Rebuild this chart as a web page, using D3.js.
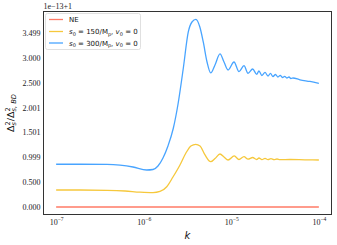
<!DOCTYPE html>
<html>
<head>
<meta charset="utf-8">
<script src="https://cdn.jsdelivr.net/npm/d3@7"></script>
<style>
  body { margin: 0; background: #fff; }
  svg { display: block; }
</style>
</head>
<body>
<svg id="chart" width="337" height="245"></svg>
<script>
const neLogK = [-7, -6, -5, -4];
const neVals = [0, 0, 0, 0];

const s150LogK = [-7, -6.727, -6.419, -6.213, -6.042, -5.894, -5.814, -5.737, -5.666, -5.586, -5.518, -5.461,
  -5.406, -5.357, -5.300, -5.235, -5.186, -5.129, -5.083, -5.037, -4.966, -4.912, -4.855, -4.809, -4.756,
  -4.710, -4.684, -4.650, -4.615, -4.581, -4.547, -4.513, -4.478, -4.444, -4.330, -4.159, -4];
const s150Vals = [0.342, 0.342, 0.336, 0.322, 0.298, 0.288, 0.312, 0.408, 0.603, 0.845, 1.086, 1.227,
  1.261, 1.227, 1.046, 0.911, 0.975, 1.066, 1.005, 0.945, 1.026, 0.955, 1.011, 0.961, 0.995,
  0.955, 0.985, 0.953, 0.977, 0.953, 0.971, 0.953, 0.965, 0.953, 0.955, 0.949, 0.945];

const s300LogK = [-7, -6.727, -6.419, -6.271, -6.122, -5.966, -5.894, -5.837, -5.780, -5.723, -5.662, -5.608,
  -5.548, -5.491, -5.449, -5.404, -5.359, -5.320, -5.277, -5.235, -5.186, -5.129, -5.083, -5.037, -4.969,
  -4.912, -4.855, -4.809, -4.756, -4.710, -4.684, -4.650, -4.615, -4.581, -4.553, -4.524, -4.495, -4.467,
  -4.441, -4.416, -4.390, -4.366, -4.341, -4.319, -4.296, -4.216, -4.102, -4];
const s300Vals = [0.859, 0.859, 0.855, 0.840, 0.804, 0.744, 0.754, 0.824, 0.985, 1.227, 1.583, 2.071,
  2.790, 3.520, 3.720, 3.774, 3.620, 3.318, 2.916, 2.695, 2.856, 3.077, 2.916, 2.755, 2.916,
  2.721, 2.841, 2.689, 2.775, 2.668, 2.735, 2.644, 2.705, 2.634, 2.685, 2.624, 2.664, 2.614,
  2.648, 2.604, 2.628, 2.594, 2.614, 2.584, 2.594, 2.558, 2.524, 2.487];

const yTickVals = [0, 0.5, 0.999, 1.501, 2.001, 2.5, 3.0, 3.499];
const yTickLabels = ['0.000', '0.500', '0.999', '1.501', '2.001', '2.500', '3.000', '3.499'];
const xTickExps = [-7, -6, -5, -4];

const seriesNames = ['NE', 's150', 's300'];
const colors = ['#ff7a66', '#f6c83c', '#48a4ff'];

const svg = d3.select('#chart');
const margin = { top: 11, right: 5, bottom: 30, left: 43 };
const width = 337, height = 245;

const pad = 0.05 * 3;
const x = d3.scaleLog()
  .domain([Math.pow(10, -7 - pad), Math.pow(10, -4 + pad)])
  .range([margin.left, width - margin.right]);
const y = d3.scaleLinear()
  .domain([-0.161, 3.941])
  .range([height - margin.bottom, margin.top]);

const series = [
  { name: 'NE', k: neLogK, v: neVals },
  { name: 's150', k: s150LogK, v: s150Vals },
  { name: 's300', k: s300LogK, v: s300Vals }
].map((s, i) => ({ ...s, color: colors[i], pts: s.k.map((lk, j) => [Math.pow(10, lk), s.v[j]]) }));

const line = d3.line()
  .x(d => x(d[0]))
  .y(d => y(d[1]))
  .curve(d3.curveMonotoneX);

svg.append('g')
  .selectAll('path')
  .data(series)
  .join('path')
    .attr('d', d => line(d.pts))
    .attr('fill', 'none')
    .attr('stroke', d => d.color)
    .attr('stroke-width', 1.3);

// frame
svg.append('rect')
  .attr('x', margin.left + 0.5)
  .attr('y', margin.top + 0.5)
  .attr('width', width - margin.left - margin.right - 1)
  .attr('height', height - margin.top - margin.bottom - 1)
  .attr('fill', 'none')
  .attr('stroke', '#333')
  .attr('stroke-width', 1);

// y axis
const yAxis = svg.append('g')
  .attr('transform', `translate(${margin.left},0)`)
  .call(d3.axisLeft(y).tickValues(yTickVals).tickSize(0).tickPadding(2.5)
    .tickFormat((d, i) => yTickLabels[i]));
yAxis.select('.domain').remove();
yAxis.selectAll('text')
  .attr('font-family', 'Liberation Serif')
  .attr('font-size', 8)
  .attr('fill', '#222');

// x axis with 10^n labels
const xAxis = svg.append('g')
  .attr('transform', `translate(0,${height - margin.bottom})`)
  .call(d3.axisBottom(x).tickValues(xTickExps.map(e => Math.pow(10, e))).tickSize(0).tickPadding(4)
    .tickFormat(() => ''));
xAxis.select('.domain').remove();
xAxis.selectAll('.tick text').each(function(d, i) {
  const t = d3.select(this)
    .attr('font-family', 'Liberation Serif')
    .attr('font-size', 8)
    .attr('fill', '#222');
  t.append('tspan').text('10');
  t.append('tspan').attr('dy', -3.5).attr('font-size', 5.6).text('\u2212' + Math.abs(xTickExps[i]));
});

// offset text
svg.append('text')
  .attr('x', margin.left + 0.5)
  .attr('y', 9)
  .attr('font-family', 'Liberation Serif')
  .attr('font-size', 8)
  .attr('fill', '#222')
  .text('1e\u221213+1');

// x label
svg.append('text')
  .attr('x', (margin.left + width - margin.right) / 2)
  .attr('y', 239)
  .attr('text-anchor', 'middle')
  .attr('font-family', 'DejaVu Sans')
  .attr('font-style', 'italic')
  .attr('font-size', 10)
  .attr('fill', '#111')
  .text('k');

// y label
const yl = svg.append('text')
  .attr('transform', 'translate(14,113) rotate(-90)')
  .attr('text-anchor', 'middle')
  .attr('font-family', 'DejaVu Sans')
  .attr('font-size', 9.5)
  .attr('fill', '#111');
yl.append('tspan').text('\u0394');
yl.append('tspan').attr('dy', 2.2).attr('font-size', 6.7).attr('font-style', 'italic').text('s');
yl.append('tspan').attr('dx', -3.5).attr('dy', -6.5).attr('font-size', 6.7).text('2');
yl.append('tspan').attr('dy', 4.3).text('/\u0394');
yl.append('tspan').attr('dy', -4.3).attr('font-size', 6.7).text('2');
yl.append('tspan').attr('dx', -4.2).attr('dy', 6.5).attr('font-size', 6.7).attr('font-style', 'italic').text('s, BD');

// legend
const lg = svg.append('g');
lg.append('rect')
  .attr('x', 45.5).attr('y', 13.5)
  .attr('width', 95).attr('height', 36)
  .attr('rx', 2)
  .attr('fill', '#fff').attr('fill-opacity', 0.8)
  .attr('stroke', '#d8d8d8').attr('stroke-width', 0.8);

const legendY = [19.5, 31.5, 43];
series.forEach((s, i) => {
  lg.append('line')
    .attr('x1', 49).attr('x2', 63)
    .attr('y1', legendY[i]).attr('y2', legendY[i])
    .attr('stroke', s.color).attr('stroke-width', 1.3);
  const t = lg.append('text')
    .attr('x', 69).attr('y', legendY[i] + 2.6)
    .attr('font-family', 'DejaVu Sans')
    .attr('font-size', 7)
    .attr('fill', '#111');
  if (i === 0) {
    t.text('NE');
  } else {
    const val = i === 1 ? '150' : '300';
    t.append('tspan').attr('font-style', 'italic').text('s');
    t.append('tspan').attr('dy', 1.6).attr('font-size', 5).text('0');
    t.append('tspan').attr('dy', -1.6).text(' = ' + val + '/M');
    t.append('tspan').attr('dy', 1.6).attr('font-size', 5).text('p');
    t.append('tspan').attr('dy', -1.6).text(', ');
    t.append('tspan').attr('font-style', 'italic').text('v');
    t.append('tspan').attr('dy', 1.6).attr('font-size', 5).text('0');
    t.append('tspan').attr('dy', -1.6).text(' = 0');
  }
});
</script>
</body>
</html>
